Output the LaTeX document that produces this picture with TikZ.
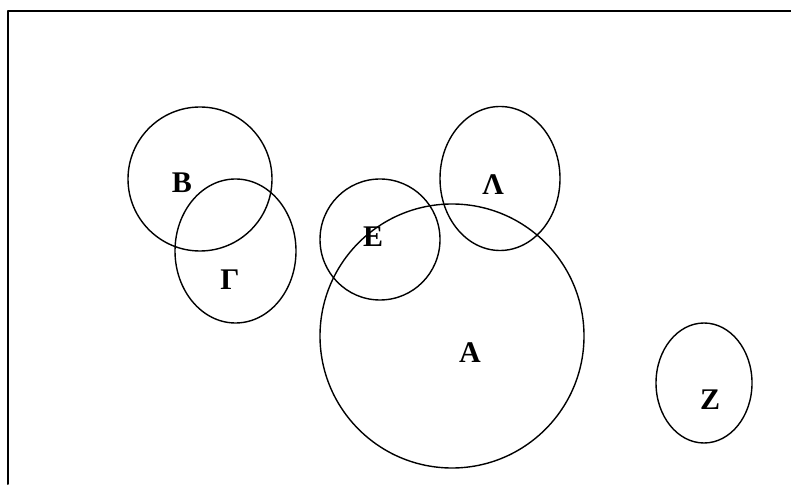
\documentclass[tikz,border=0pt]{standalone}
\usepackage{fontspec}
\setmainfont{Liberation Serif}

\begin{document}
\begin{tikzpicture}[x=1pt,y=1pt,line cap=round,line join=round,
    setlabel/.style={font=\fontsize{30}{30}\selectfont\bfseries,inner sep=0pt}]
  \useasboundingbox (0,0) rectangle (791,484);
  % frame (only top and left edges fall inside the page)
  \draw[line width=2pt] (8,0) |- (791,473);
  % sets
  \draw[line width=1.4pt] (200,305) ellipse (72 and 72);
  \draw[line width=1.4pt] (235.5,233) ellipse (60.5 and 72);
  \draw[line width=1.4pt] (380,244.5) ellipse (60 and 60.5);
  \draw[line width=1.4pt] (500,305.5) ellipse (60 and 72);
  \draw[line width=1.4pt] (452,148) ellipse (132 and 132);
  \draw[line width=1.4pt] (704,101) ellipse (48 and 60);
  \node[setlabel] (b) at (182,301) {Β};
  \node[setlabel] (g) at (230,204) {Γ};
  \node[setlabel] (e) at (373,247) {Ε};
  \node[setlabel] (l) at (493,299) {Λ};
  \node[setlabel] (a) at (470,131) {Α};
  \node[setlabel] (z) at (710,84) {Ζ};
\end{tikzpicture}
\end{document}
